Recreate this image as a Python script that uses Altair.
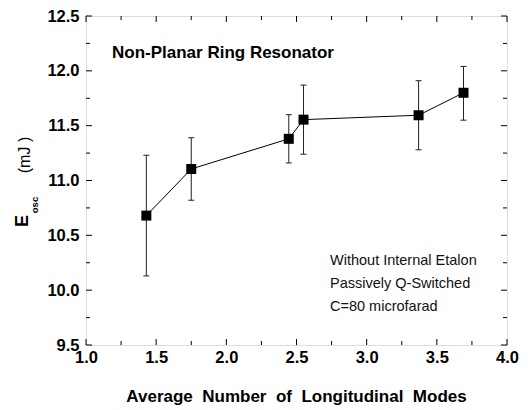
import altair as alt
import pandas as pd

# ---- data ----
modes = [1.43, 1.75, 2.445, 2.55, 3.37, 3.69]
energy = [10.68, 11.105, 11.38, 11.555, 11.595, 11.80]
err_hi = [11.23, 11.39, 11.60, 11.87, 11.91, 12.04]
err_lo = [10.13, 10.82, 11.16, 11.24, 11.28, 11.55]

x_major = [1.0, 1.5, 2.0, 2.5, 3.0, 3.5, 4.0]
x_minor = [1.25, 1.75, 2.25, 2.75, 3.25, 3.75]
y_major = [9.5, 10.0, 10.5, 11.0, 11.5, 12.0, 12.5]
y_minor = [9.75, 10.25, 10.75, 11.25, 11.75, 12.25]

title_text = "Non-Planar Ring Resonator"
note_lines = ["Without Internal Etalon", "Passively Q-Switched", "C=80 microfarad"]
x_title = "Average\u00a0 Number\u00a0 of\u00a0 Longitudinal\u00a0 Modes"
y_title_main = "E"
y_title_sub = "osc"
y_title_unit = "(mJ )"

W, H = 421, 329
FONT = "Liberation Sans"

df = pd.DataFrame({"m": modes, "e": energy, "hi": err_hi, "lo": err_lo})
xs = alt.Scale(domain=[1.0, 4.0], nice=False, zero=False)
ys = alt.Scale(domain=[9.5, 12.5], nice=False, zero=False)

xax = alt.Axis(values=x_major, format=".1f", ticks=False, domain=False, grid=False,
               labelFont=FONT, labelFontWeight="bold", labelFontSize=16.5, labelColor="black",
               labelPadding=4, labelFlush=False, labelOverlap=False, title=None)
yax = alt.Axis(values=y_major, format=".1f", ticks=False, domain=False, grid=False,
               labelFont=FONT, labelFontWeight="bold", labelFontSize=16.5, labelColor="black",
               labelPadding=7, labelFlush=False, labelOverlap=False, title=None)

base = alt.Chart(df)

line = base.mark_line(color="black", strokeWidth=1).encode(
    x=alt.X("m:Q", scale=xs, axis=xax), y=alt.Y("e:Q", scale=ys, axis=yax))
bars = base.mark_rule(color="#222222", strokeWidth=1).encode(
    x=alt.X("m:Q", scale=xs), y=alt.Y("lo:Q", scale=ys), y2="hi:Q")
cap_hi = base.mark_rule(color="#222222", strokeWidth=1, xOffset=-3, x2Offset=3).encode(
    x=alt.X("m:Q", scale=xs), x2="m:Q", y=alt.Y("hi:Q", scale=ys))
cap_lo = base.mark_rule(color="#222222", strokeWidth=1, xOffset=-3, x2Offset=3).encode(
    x=alt.X("m:Q", scale=xs), x2="m:Q", y=alt.Y("lo:Q", scale=ys))
pts = base.mark_square(size=100, color="black", opacity=1, filled=True).encode(
    x=alt.X("m:Q", scale=xs), y=alt.Y("e:Q", scale=ys))

def xticks(vals, length):
    d = alt.Chart(pd.DataFrame({"v": vals}))
    b = d.mark_rule(color="black", strokeWidth=1).encode(
        x=alt.X("v:Q", scale=xs), y=alt.value(H), y2=alt.value(H - length))
    t = d.mark_rule(color="black", strokeWidth=1).encode(
        x=alt.X("v:Q", scale=xs), y=alt.value(0), y2=alt.value(length))
    return [b, t]

def yticks(vals, length):
    d = alt.Chart(pd.DataFrame({"v": vals}))
    l = d.mark_rule(color="black", strokeWidth=1).encode(
        y=alt.Y("v:Q", scale=ys), x=alt.value(0), x2=alt.value(length))
    r = d.mark_rule(color="black", strokeWidth=1).encode(
        y=alt.Y("v:Q", scale=ys), x=alt.value(W), x2=alt.value(W - length))
    return [l, r]

tick_layers = xticks(x_major, 6) + xticks(x_minor, 4) + yticks(y_major, 6) + yticks(y_minor, 4)

one = alt.Chart(pd.DataFrame({"k": [0]}))
t_title = one.mark_text(text=title_text, font=FONT, fontWeight="bold", fontSize=17,
                        align="left", baseline="middle", color="black").encode(
    x=alt.value(26), y=alt.value(37))
t_notes = one.mark_text(text=note_lines, font=FONT, fontSize=14.5, lineHeight=23,
                        align="left", baseline="middle", color="#111111").encode(
    x=alt.value(244), y=alt.value(245))
t_xtitle = one.mark_text(text=x_title, font=FONT, fontWeight="bold", fontSize=17,
                         align="center", baseline="middle", color="black").encode(
    x=alt.value(W / 2), y=alt.value(381))
t_E = one.mark_text(text=y_title_main, font=FONT, fontWeight="bold", fontSize=18, angle=270,
                    align="center", baseline="middle", color="black").encode(
    x=alt.value(23 - 86), y=alt.value(221 - 16))
t_sub = one.mark_text(text=y_title_sub, font=FONT, fontWeight="bold", fontSize=9.5, angle=270,
                      align="center", baseline="middle", color="black").encode(
    x=alt.value(35 - 86), y=alt.value(205 - 16))
t_unit = one.mark_text(text=y_title_unit, font=FONT, fontSize=16, angle=270,
                       align="center", baseline="middle", color="black").encode(
    x=alt.value(25 - 86), y=alt.value(155 - 16))

chart = alt.layer(
    line, bars, cap_hi, cap_lo, pts, *tick_layers,
    t_title, t_notes, t_xtitle, t_E, t_sub, t_unit
).properties(
    width=W, height=H,
    autosize=alt.AutoSizeParams(type="none"),
    padding={"left": 78, "top": 8, "right": 15, "bottom": 62},
).configure_view(stroke="black", strokeWidth=1.2).configure(background="white")

chart.save("out.html", embed_options={"renderer": "svg", "actions": False})
